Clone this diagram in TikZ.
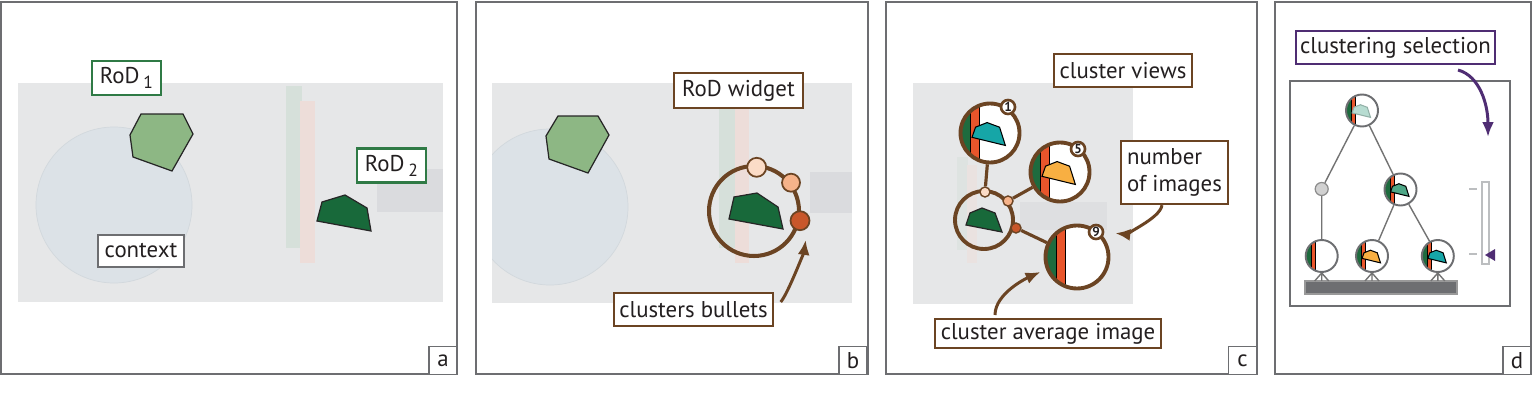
\documentclass[tikz,border=0pt]{standalone}
\usepackage{fontspec}
\setmainfont{PT Sans}
\usetikzlibrary{arrows.meta}

\definecolor{framegray}{HTML}{6D6E71}
\definecolor{bggray}{HTML}{E6E7E8}
\definecolor{ctxfill}{HTML}{DCE2E7}
\definecolor{ctxline}{HTML}{D2D8DD}
\definecolor{bargreen}{HTML}{D6E0DA}
\definecolor{barpink}{HTML}{EDDDD9}
\definecolor{boxgray}{HTML}{DADBDE}
\definecolor{lightroof}{HTML}{8DB784}
\definecolor{darkroof}{HTML}{18693A}
\definecolor{rodgreen}{HTML}{2F7A45}
\definecolor{brn}{HTML}{6B4423}
\definecolor{purp}{HTML}{4F2D73}
\definecolor{stripgreen}{HTML}{1E6B3E}
\definecolor{striporange}{HTML}{E8552B}
\definecolor{tealroof}{HTML}{16A6A7}
\definecolor{amberroof}{HTML}{F8AF42}
\definecolor{midroof}{HTML}{4EA787}
\definecolor{paleroof}{HTML}{B7DCD1}
\definecolor{peach1}{HTML}{FBDCC7}
\definecolor{peach2}{HTML}{F6B38A}
\definecolor{peach3}{HTML}{C8572A}
\definecolor{textdark}{HTML}{231F20}
\definecolor{slidergray}{HTML}{BCBEC0}

\newcommand{\lowsub}[1]{\raisebox{-0.45ex}{\fontsize{10}{10}\selectfont #1}}

\begin{document}
\begin{tikzpicture}[x=0.02cm,y=-0.02cm,>={Latex[length=0.3cm,width=0.24cm]},
    panel/.style={draw=framegray,line width=1.1pt},
    tag/.style={draw,fill=white,line width=1.3pt,inner sep=0pt,text=textdark,
      font=\fontsize{13}{15}\selectfont},
    letter/.style={tag,draw=framegray,line width=1.1pt,minimum size=0.56cm},
    roof/.style={draw=black!85,line width=0.7pt},
    view/.style={circle,draw=brn,line width=2.2pt,inner sep=0pt},
    treeview/.style={circle,draw=framegray,fill=white,line width=1.1pt,inner sep=0pt,
      minimum size=0.64cm},
    bullet/.style={circle,draw=brn,line width=1pt,inner sep=0pt,minimum size=0.38cm},
    dot/.style={circle,draw=brn,line width=0.8pt,inner sep=0pt,minimum size=0.2cm},
    knot/.style={circle,draw=black!45,fill=black!18,line width=0.7pt,inner sep=0pt,
      minimum size=0.26cm},
    badge/.style={circle,draw=brn,fill=white,line width=1.5pt,inner sep=0pt,
      minimum size=0.28cm,text=textdark,font=\bfseries\fontsize{7.5}{7.5}\selectfont},
    link/.style={brn,line width=1.8pt},
    branch/.style={draw=black!55,line width=0.8pt},
    pointer/.style={->,brn,line width=1.7pt},
    thumb/.style 2 args={path picture={
      \begin{scope}[shift={(path picture bounding box.center)},x=#2,y=-#2]
        \fill[stripgreen] (-1.3,-1.3) rectangle (-0.66,1.3);
        \fill[striporange] (-0.66,-1.3) rectangle (-0.38,1.3);
        \draw[black,line width=0.5pt] (-0.66,-1.3) -- (-0.66,1.3)
          (-0.38,-1.3) -- (-0.38,1.3);
        \path[line width=0.6pt,#1] (-0.62,0.15) -- (-0.5,-0.2) -- (-0.1,-0.36)
          -- (0.33,-0.2) -- (0.53,0.43) -- cycle;
      \end{scope}}}
  ]
  \useasboundingbox (0,0) rectangle (1532,419);
  \fill[white] (0,0) rectangle (1532,419);

  % a: two regions of difference
  \draw[panel] (1,2) rectangle (457,374);
  \fill[bggray] (18,83) rectangle (443,302);
  \filldraw[fill=ctxfill,draw=ctxline] (114,205) circle[radius=78];
  \fill[bargreen] (286,86) rectangle (302,248);
  \fill[barpink] (300,101) rectangle (315,263);
  \fill[boxgray] (377,169) rectangle (443,212);
  \filldraw[roof,fill=lightroof] (141,114) -- (183,114) -- (193,134) -- (172,171)
    -- (133,157) -- (130,135) -- cycle;
  \filldraw[roof,fill=darkroof] (317,221) -- (322,202) -- (345,195) -- (367,208)
    -- (371,231) -- cycle;
  \node[tag,draw=rodgreen,minimum width=1.38cm,minimum height=0.68cm] (rod1)
    at (126.5,78) {RoD\,\lowsub{1}};
  \node[tag,draw=rodgreen,minimum width=1.38cm,minimum height=0.68cm] (rod2)
    at (391.5,165.5) {RoD\,\lowsub{2}};
  \node[tag,draw=framegray,minimum width=1.72cm,minimum height=0.64cm] (ctx)
    at (141,251) {context};
  \node[letter] (la) at (443,360.5) {a};

  % b: widget with bullets
  \draw[panel] (476,2) rectangle (868,374);
  \fill[bggray] (492,83) rectangle (852,303);
  \begin{scope}
    \clip (492,83) rectangle (852,303);
    \filldraw[fill=ctxfill,draw=ctxline] (550,207) circle[radius=78];
  \end{scope}
  \fill[bargreen] (719,90) rectangle (735,248);
  \fill[barpink] (735,101) rectangle (749,263);
  \fill[boxgray] (810,172) rectangle (852,213);
  \filldraw[roof,fill=lightroof] (558,116) -- (598,116) -- (609,135) -- (588,173)
    -- (549,159) -- (546,136) -- cycle;
  \node[view,minimum size=1.8cm,line width=2.3pt] (ring) at (754,211) {};
  \filldraw[roof,fill=darkroof] (729,219) -- (734,197) -- (757,193) -- (778,207)
    -- (783,229) -- cycle;
  \node[bullet,fill=peach1] (bl1) at (756.7,167.3) {};
  \node[bullet,fill=peach2,minimum size=0.36cm] (bl2) at (791,182.7) {};
  \node[bullet,fill=peach3] (bl3) at (800,220.7) {};
  \node[tag,draw=brn,minimum width=2.58cm,minimum height=0.7cm] (widget)
    at (738.5,90.5) {RoD widget};
  \node[tag,draw=brn,minimum width=3.18cm,minimum height=0.66cm] (bul)
    at (693.5,309.5) {clusters bullets};
  \draw[pointer,shorten <=0.2cm,shorten >=0.24cm] (bul.east)
    .. controls +(14,-16) and +(-3,22) .. (bl3.south east);
  \node[letter] (lb) at (853,360.5) {b};

  % c: cluster views
  \draw[panel] (886,2) rectangle (1257,374);
  \fill[bggray] (913,83) rectangle (1133,304);
  \fill[bargreen!50!bggray] (957,157) rectangle (968,250);
  \fill[barpink!50!bggray] (967,165) rectangle (977,263);
  \fill[boxgray!70!bggray] (1020,202) rectangle (1107,230);
  \node[view,fill=white,minimum size=1.18cm,thumb={fill=tealroof,draw=black}{0.58cm}] (c1)
    at (990,133) {};
  \node[view,fill=white,minimum size=1.18cm,thumb={fill=amberroof,draw=black}{0.58cm}] (c5)
    at (1060,172) {};
  \node[view,fill=white,minimum size=1.26cm,thumb={draw=none}{0.62cm}] (c9)
    at (1077,257) {};
  \node[view,minimum size=1.16cm] (c0) at (984,220) {};
  \filldraw[roof,fill=darkroof] (966,225) -- (970,213) -- (982,208) -- (995,213)
    -- (1002,232) -- cycle;
  \node[dot,fill=peach1] (d1) at (985,192) {};
  \node[dot,fill=peach2] (d2) at (1008,201) {};
  \node[dot,fill=peach3] (d3) at (1016,228) {};
  \draw[link] (c1) -- (d1) (d2) -- (c5) (d3) -- (c9);
  \node[badge] (n1) at (1008,107) {1};
  \node[badge] (n5) at (1078,149) {5};
  \node[badge] (n9) at (1096,232) {9};
  \node[tag,draw=brn,minimum width=2.76cm,minimum height=0.66cm] (views)
    at (1123,70.5) {cluster views};
  \node[tag,draw=brn,minimum width=2.14cm,minimum height=1.26cm,align=left] (num)
    at (1174.5,172.5) {number\\of images};
  \node[tag,draw=brn,minimum width=4.52cm,minimum height=0.58cm] (avg)
    at (1048,333.5) {cluster average image};
  \coordinate (avgfoot) at (995,315);
  \draw[pointer,shorten >=0.22cm] ([xshift=-0.25cm]num.south)
    .. controls +(-2,14) and +(18,2) .. (n9.east);
  \draw[pointer,shorten >=0.12cm] (avgfoot)
    .. controls +(0,-22) and +(-18,8) .. (c9.202);
  \node[letter] (lc) at (1242.5,360.5) {c};

  % d: hierarchy of clusterings
  \draw[panel] (1275,2) rectangle (1531,374);
  \draw[panel] (1290,81) rectangle (1510,306);
  \node[tag,draw=purp,minimum width=3.98cm,minimum height=0.66cm] (sel)
    at (1395.5,47.5) {clustering selection};
  \node[treeview,thumb={fill=paleroof,draw=paleroof!80!black}{0.32cm}] (root)
    at (1362,110.5) {};
  \node[treeview,thumb={fill=midroof,draw=black}{0.32cm}] (mid) at (1400.5,189.5) {};
  \node[knot] (gap) at (1321.7,189) {};
  \node[treeview,thumb={draw=none}{0.32cm}] (leafA) at (1321.7,256) {};
  \node[treeview,thumb={fill=amberroof,draw=black}{0.32cm}] (leafB) at (1372,256) {};
  \node[treeview,thumb={fill=tealroof,draw=black}{0.32cm}] (leafC) at (1437.8,256) {};
  \draw[branch] (root) -- (gap) (root) -- (mid) (gap) -- (leafA)
    (mid) -- (leafB) (mid) -- (leafC);
  \node[draw=black!40,fill=framegray,line width=0.8pt,minimum width=3.04cm,
    minimum height=0.26cm,inner sep=0pt] (shelf) at (1381,287.5) {};
  \foreach \l in {leafA,leafB,leafC}
    \draw[branch] (\l.south) -- +(-7,8) (\l.south) -- +(0,8) (\l.south) -- +(7,8);
  \draw[slidergray,line width=0.8pt] (1482,182) rectangle (1489,264);
  \draw[slidergray,line width=0.8pt] (1469,189) -- (1477,189) (1469,254) -- (1477,254);
  \fill[purp] (1485,255) -- (1495,249) -- (1495,261) -- cycle;
  \coordinate (selfoot) at (1458,70);
  \coordinate (selhead) at (1488,137);
  \draw[pointer,purp] (selfoot) .. controls +(22,6) and +(0,-32) .. (selhead);
  \node[letter] (ld) at (1517,360.5) {d};
\end{tikzpicture}
\end{document}
